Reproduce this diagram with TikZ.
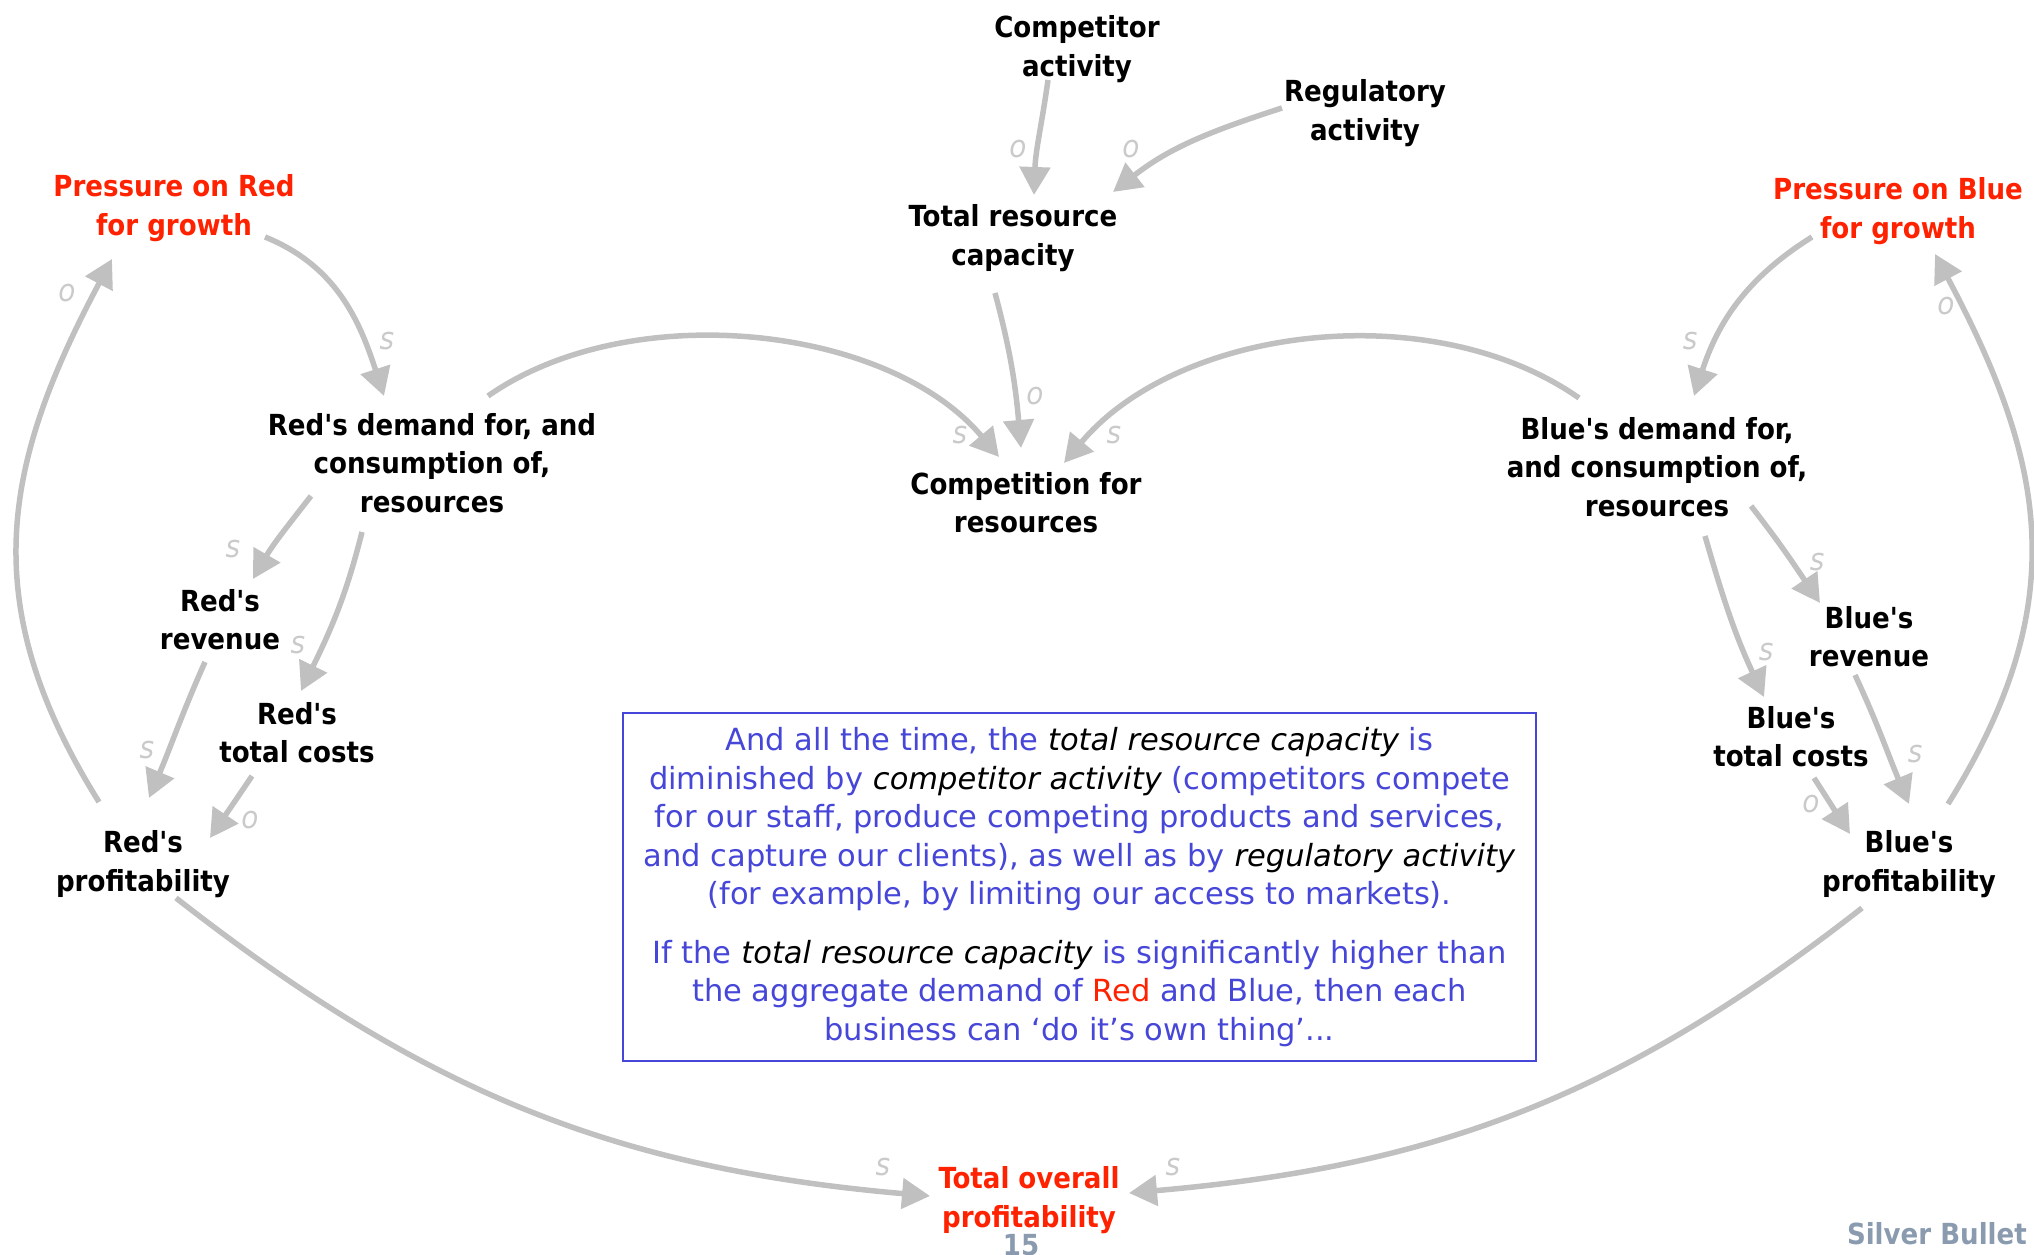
\documentclass[tikz,border=0pt]{standalone}
\usepackage{fontspec}
\setmainfont{DejaVu Sans Condensed}[Ligatures=TeXOff]
\newfontfamily\notefont{DejaVu Sans}
\usetikzlibrary{arrows.meta}
\definecolor{cdred}{HTML}{FF2200}
\definecolor{linkgray}{HTML}{C0C0C0}
\definecolor{polgray}{HTML}{CACACA}
\definecolor{noteblue}{HTML}{4646D8}
\definecolor{brand}{HTML}{8A9BB0}

\begin{document}
\begin{tikzpicture}[x=1pt,y=1pt,
  var/.style={font=\fontsize{29}{38.3}\selectfont\bfseries, align=center, inner sep=0pt},
  hot/.style={var, text=cdred},
  link/.style={draw=linkgray, line width=5.5pt, -{Triangle[length=28pt,width=30pt]}},
  pol/.style={font=\fontsize{31}{34}\selectfont\itshape, text=polgray, inner sep=0pt},
  note/.style={draw=noteblue, line width=1.8pt, text=noteblue, align=center,
    minimum width=913pt, minimum height=348pt, inner sep=0pt,
    font=\notefont\fontsize{30.5}{38.5}\selectfont}
]
\useasboundingbox (0,0) rectangle (2034,1255);

% variables
\node[var] (comp) at (1077,1206) {Competitor\\activity};
\node[var] (reg)  at (1365,1142) {Regulatory\\activity};
\node[var] (trc)  at (1013,1017) {Total resource\\capacity};
\node[hot] (pr)   at (174,1047)  {Pressure on Red\\for growth};
\node[hot] (pb)   at (1898,1044) {Pressure on Blue\\for growth};
\node[var] (rd)   at (432,792)   {Red's demand for, and\\consumption of,\\resources};
\node[var] (cfr)  at (1026,752)  {Competition for\\resources};
\node[var] (bd)   at (1657,788)  {Blue's demand for,\\and consumption of,\\resources};
\node[var] (rrev) at (220,635)   {Red's\\revenue};
\node[var] (rtc)  at (297,522)   {Red's\\total costs};
\node[var] (rp)   at (143,391)   {Red's\\profitability};
\node[var] (brev) at (1869,618)  {Blue's\\revenue};
\node[var] (btc)  at (1791,518)  {Blue's\\total costs};
\node[var] (bp)   at (1909,391)  {Blue's\\profitability};
\node[hot] (top)  at (1029,55)   {Total overall\\profitability};

% causal links
\draw[link] ([shift={(-29,-31)}]comp.center) to[out=-98,in=88] ([shift={(21,43)}]trc.center);
\draw[link] ([shift={(-83,5)}]reg.center) to[out=198,in=38] ([shift={(100,46)}]trc.center);
\draw[link] ([shift={(-18,-55)}]trc.center) to[out=-75,in=95] ([shift={(-5,55)}]cfr.center);
\draw[link] ([shift={(56,67)}]rd.center) to[out=35,in=130,looseness=0.86] ([shift={(-27,46)}]cfr.center);
\draw[link] ([shift={(-78,69)}]bd.center) to[out=145,in=50,looseness=0.88] ([shift={(38,40)}]cfr.center);
\draw[link] ([shift={(91,-29)}]pr.center) to[out=-22,in=108] ([shift={(-48,67)}]rd.center);
\draw[link] ([shift={(-44,62)}]rp.center) to[out=122,in=-118,looseness=1.1] ([shift={(-62,-51)}]pr.center);
\draw[link] ([shift={(-121,-33)}]rd.center) to[out=232,in=60] ([shift={(33,41)}]rrev.center);
\draw[link] ([shift={(-70,-69)}]rd.center) to[out=-104,in=64] ([shift={(4,42)}]rtc.center);
\draw[link] ([shift={(-15,-42)}]rrev.center) to[out=246,in=67] ([shift={(6,66)}]rp.center);
\draw[link] ([shift={(-45,-43)}]rtc.center) to[out=236,in=56] ([shift={(67,26)}]rp.center);
\draw[link] ([shift={(33,-34)}]rp.center) to[out=-38,in=175] ([shift={(-99,4)}]top.center);
\draw[link] ([shift={(-47,-44)}]bp.center) to[out=-142,in=5] ([shift={(100,7)}]top.center);
\draw[link] ([shift={(-86,-26)}]pb.center) to[out=212,in=72] ([shift={(37,71)}]bd.center);
\draw[link] ([shift={(39,60)}]bp.center) to[out=58,in=-62,looseness=1.1] ([shift={(37,-43)}]pb.center);
\draw[link] ([shift={(94,-39)}]bd.center) to[out=-52,in=124] ([shift={(-49,34)}]brev.center);
\draw[link] ([shift={(48,-69)}]bd.center) to[out=-74,in=115] ([shift={(-27,40)}]btc.center);
\draw[link] ([shift={(-14,-38)}]brev.center) to[out=-65,in=113] ([shift={(0,60)}]bp.center);
\draw[link] ([shift={(23,-41)}]btc.center) to[out=-57,in=123] ([shift={(-59,30)}]bp.center);

% link polarities
\node[pol] (l1)  at (1018,1106) {o};
\node[pol] (l2)  at (1131,1106) {o};
\node[pol] (l3)  at (1035,859)  {o};
\node[pol] (l4)  at (960,820)   {s};
\node[pol] (l5)  at (1114,820)  {s};
\node[pol] (l6)  at (387,914)   {s};
\node[pol] (l7)  at (67,962)    {o};
\node[pol] (l8)  at (233,706)   {s};
\node[pol] (l9)  at (298,610)   {s};
\node[pol] (l10) at (147,505)   {s};
\node[pol] (l11) at (250,435)   {o};
\node[pol] (l12) at (883,88)    {s};
\node[pol] (l13) at (1173,88)   {s};
\node[pol] (l14) at (1690,914)  {s};
\node[pol] (l15) at (1946,949)  {o};
\node[pol] (l16) at (1817,693)  {s};
\node[pol] (l17) at (1766,603)  {s};
\node[pol] (l18) at (1915,501)  {s};
\node[pol] (l19) at (1811,451)  {o};

% explanatory note
\node[note] (txt) at (1079.5,368) {%
And all the time, the {\color{black}\itshape total resource capacity} is\\
diminished by {\color{black}\itshape competitor activity} (competitors compete\\
for our staff, produce competing products and services,\\
and capture our clients), as well as by {\color{black}\itshape regulatory activity}\\
(for example, by limiting our access to markets).\\[20pt]
If the {\color{black}\itshape total resource capacity} is significantly higher than\\
the aggregate demand of {\color{cdred}Red} and Blue, then each\\
business can ‘do it’s own thing’...};

% footer
\node[font=\fontsize{29}{34}\selectfont\bfseries, text=brand, anchor=base, inner sep=0pt] (pg) at (1021,-1) {15};
\node[font=\fontsize{29}{34}\selectfont\bfseries, text=brand, anchor=base east, inner sep=0pt] (brandname) at (2027,10) {Silver Bullet};
\end{tikzpicture}
\end{document}
